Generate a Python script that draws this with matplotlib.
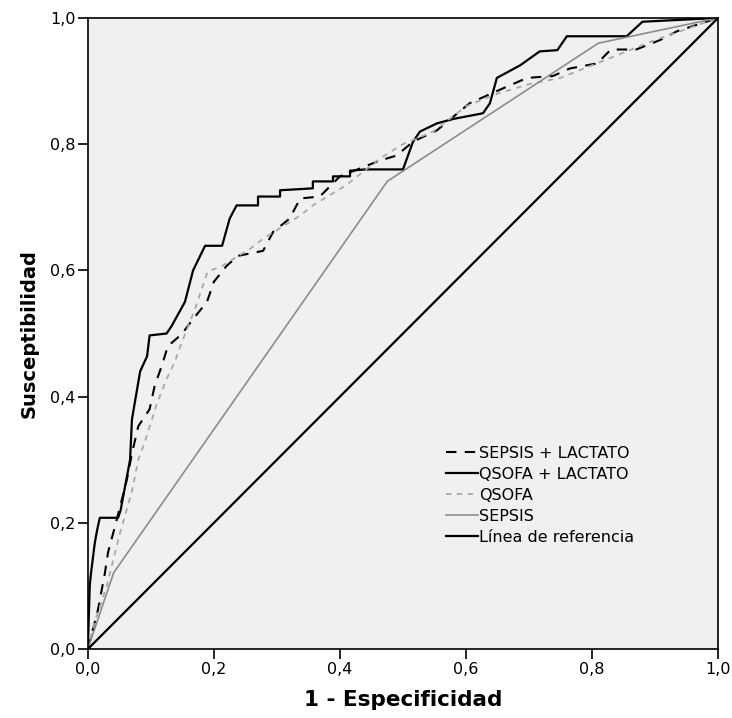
import matplotlib.pyplot as plt
from matplotlib.ticker import FuncFormatter

# ROC curves (1 - especificidad, susceptibilidad)
sep_lac_x = [0.0, 0.016, 0.027, 0.032, 0.043, 0.054, 0.062, 0.07, 0.08, 0.098, 0.106, 0.117,
             0.127, 0.149, 0.167, 0.189, 0.2, 0.22, 0.238, 0.278, 0.294, 0.32, 0.337, 0.368,
             0.4, 0.463, 0.49, 0.516, 0.554, 0.606, 0.66, 0.697, 0.738, 0.765, 0.808, 0.83,
             0.87, 0.908, 0.935, 1.0]
sep_lac_y = [0.0, 0.062, 0.12, 0.153, 0.194, 0.237, 0.269, 0.31, 0.353, 0.38, 0.417, 0.448,
             0.48, 0.499, 0.523, 0.55, 0.582, 0.607, 0.623, 0.631, 0.661, 0.682, 0.714, 0.717,
             0.749, 0.774, 0.782, 0.804, 0.822, 0.865, 0.889, 0.905, 0.908, 0.92, 0.928, 0.95,
             0.95, 0.965, 0.979, 1.0]

qsofa_lac_x = [0.0, 0.003, 0.005, 0.011, 0.015, 0.019, 0.048, 0.052, 0.067, 0.07, 0.083, 0.094,
               0.098, 0.125, 0.133, 0.154, 0.167, 0.186, 0.213, 0.225, 0.236, 0.27, 0.27, 0.305,
               0.305, 0.357, 0.357, 0.389, 0.389, 0.416, 0.416, 0.44, 0.5, 0.516, 0.527, 0.554,
               0.58, 0.627, 0.638, 0.649, 0.686, 0.717, 0.745, 0.76, 0.855, 0.88, 1.0]
qsofa_lac_y = [0.0, 0.1, 0.12, 0.168, 0.19, 0.208, 0.208, 0.22, 0.3, 0.364, 0.44, 0.464,
               0.497, 0.5, 0.512, 0.55, 0.6, 0.639, 0.639, 0.682, 0.703, 0.703, 0.717, 0.717,
               0.727, 0.73, 0.741, 0.741, 0.749, 0.749, 0.758, 0.76, 0.76, 0.804, 0.82, 0.833,
               0.84, 0.849, 0.865, 0.905, 0.925, 0.947, 0.949, 0.971, 0.971, 0.994, 1.0]

qsofa_x = [0.0, 0.01, 0.03, 0.05, 0.07, 0.08, 0.09, 0.11, 0.125, 0.138, 0.146, 0.17, 0.19,
           0.213, 0.257, 0.278, 0.337, 0.357, 0.41, 0.463, 0.5, 0.548, 0.6, 0.65, 0.7, 0.75,
           0.8, 0.85, 0.9, 1.0]
qsofa_y = [0.0, 0.04, 0.1, 0.18, 0.25, 0.3, 0.327, 0.39, 0.428, 0.455, 0.478, 0.539, 0.598,
           0.607, 0.634, 0.65, 0.687, 0.703, 0.735, 0.777, 0.8, 0.82, 0.86, 0.88, 0.895, 0.905,
           0.925, 0.945, 0.965, 1.0]

sepsis_x = [0.0, 0.041, 0.475, 0.81, 1.0]
sepsis_y = [0.0, 0.121, 0.741, 0.96, 1.0]

ref_x = [0.0, 1.0]
ref_y = [0.0, 1.0]

ticks = [0.0, 0.2, 0.4, 0.6, 0.8, 1.0]

fig = plt.figure(figsize=(7.32, 7.18), dpi=100)
ax = fig.add_axes([0.12, 0.096, 0.861, 0.879])
ax.set_facecolor("#f0f0f0")

ax.plot(sep_lac_x, sep_lac_y, color="black", linestyle=(0, (5, 4)), linewidth=1.5,
        label="SEPSIS + LACTATO")
ax.plot(qsofa_lac_x, qsofa_lac_y, color="black", linewidth=1.6, label="QSOFA + LACTATO")
ax.plot(qsofa_x, qsofa_y, color="#a8a8a8", linestyle=(0, (3, 3)), linewidth=1.3,
        label="QSOFA")
ax.plot(sepsis_x, sepsis_y, color="#8c8c8c", linewidth=1.2, label="SEPSIS")
ax.plot(ref_x, ref_y, color="black", linewidth=1.6, label="Línea de referencia")

ax.set_xlim(0, 1)
ax.set_ylim(0, 1)
ax.set_xticks(ticks)
ax.set_yticks(ticks)
fmt = FuncFormatter(lambda v, p: f"{v:.1f}".replace(".", ","))
ax.xaxis.set_major_formatter(fmt)
ax.yaxis.set_major_formatter(fmt)
ax.tick_params(direction="out", length=7, width=1.2, labelsize=11.5, colors="black", pad=2)
for s in ax.spines.values():
    s.set_linewidth(1.2)

ax.set_xlabel("1 - Especificidad", fontsize=15.5, fontweight="bold", labelpad=10)
ax.set_ylabel("Susceptibilidad", fontsize=14, fontweight="bold", labelpad=8)

ax.legend(loc="upper left", bbox_to_anchor=(0.545, 0.345), frameon=False, fontsize=11.5,
          handlelength=2.0, handletextpad=0.1, labelspacing=0.38)

plt.savefig("out.png", dpi=100)
